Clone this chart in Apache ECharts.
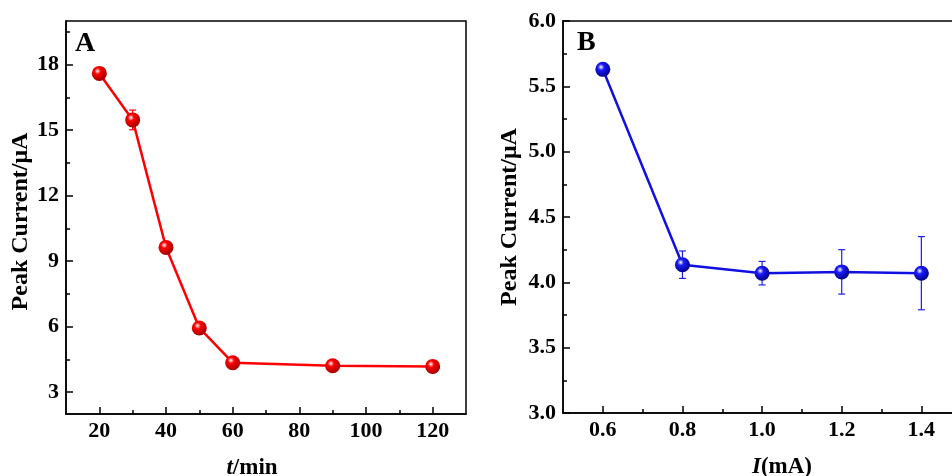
<!DOCTYPE html>
<html><head><meta charset="utf-8">
<script src="https://cdn.jsdelivr.net/npm/echarts@6/dist/echarts.min.js"></script>
<style>html,body{margin:0;padding:0;background:#fff}#c{width:952px;height:476px}</style>
</head><body><div id="c"></div>
<script>
// Panel A data
const timeMin = [20, 30, 40, 50, 60, 90, 120];
const peakA = [17.6, 15.47, 9.63, 5.94, 4.35, 4.21, 4.18];
const errA = [0.08, 0.45, 0.08, 0.08, 0.06, 0.06, 0.06];
// Panel B data
const currentMA = [0.6, 0.8, 1.0, 1.2, 1.4];
const peakB = [5.63, 4.135, 4.07, 4.08, 4.07];
const errB = [0.02, 0.105, 0.09, 0.17, 0.28];
// Tick labels
const xTicksA = [20, 40, 60, 80, 100, 120];
const xMinorA = [30, 50, 70, 90, 110];
const yTicksA = [3, 6, 9, 12, 15, 18];
const yMinorA = [4.5, 7.5, 10.5, 13.5, 16.5, 19.5];
const xTicksB = [0.6, 0.8, 1.0, 1.2, 1.4];
const xMinorB = [0.7, 0.9, 1.1, 1.3, 1.5];
const yTicksB = [3.0, 3.5, 4.0, 4.5, 5.0, 5.5, 6.0];
const yMinorB = [3.25, 3.75, 4.25, 4.75, 5.25, 5.75];

const FONT = '"Liberation Serif", "Times New Roman", serif';
const chart = echarts.init(document.getElementById('c'), null, {renderer: 'canvas'});

function ball(c, dark) {
  return {type: 'radial', x: 0.38, y: 0.35, r: 0.7,
    colorStops: [{offset: 0, color: '#ffffff'}, {offset: 0.3, color: c}, {offset: 1, color: dark}]};
}
function mainAxis(grid, pos, min, max, ticks, fmt, isX, name, nameGap, nameSize, namePad) {
  return {
    type: 'value', gridIndex: grid, position: pos, min: min, max: max,
    name: name, nameLocation: 'middle', nameGap: nameGap,
    nameTextStyle: {fontFamily: FONT, fontWeight: 'bold', fontSize: nameSize, color: '#000', padding: namePad,
      rich: {i: {fontFamily: FONT, fontWeight: 'bold', fontStyle: 'italic', fontSize: nameSize, color: '#000'}}},
    axisLine: {show: true, onZero: false, lineStyle: {color: '#000', width: 1.5}},
    axisTick: {show: true, inside: true, length: 7, customValues: ticks, lineStyle: {color: '#000', width: 1.5}},
    axisLabel: {show: true, customValues: ticks, formatter: fmt, fontFamily: FONT, fontWeight: 'bold',
      fontSize: 22, color: '#000', margin: isX ? 6 : 7},
    splitLine: {show: false}
  };
}
function minorAxis(grid, pos, min, max, ticks) {
  return {
    type: 'value', gridIndex: grid, position: pos, min: min, max: max,
    axisLine: {show: false, onZero: false},
    axisTick: {show: true, inside: true, length: 4, customValues: ticks, lineStyle: {color: '#000', width: 1.5}},
    axisLabel: {show: false}, splitLine: {show: false}
  };
}
function errRender(params, api) {
  const x = api.value(0), y = api.value(1), e = api.value(2);
  const top = api.coord([x, y + e]), bot = api.coord([x, y - e]);
  const w = 3.5;
  const st = {stroke: api.visual('color'), lineWidth: 1.2};
  return {type: 'group', children: [
    {type: 'line', shape: {x1: top[0], y1: top[1], x2: bot[0], y2: bot[1]}, style: st},
    {type: 'line', shape: {x1: top[0] - w, y1: top[1], x2: top[0] + w, y2: top[1]}, style: st},
    {type: 'line', shape: {x1: bot[0] - w, y1: bot[1], x2: bot[0] + w, y2: bot[1]}, style: st}
  ]};
}

const dataA = timeMin.map((t, i) => [t, peakA[i]]);
const errDataA = timeMin.map((t, i) => [t, peakA[i], errA[i]]);
const dataB = currentMA.map((c, i) => [c, peakB[i]]);
const errDataB = currentMA.map((c, i) => [c, peakB[i], errB[i]]);

chart.setOption({
  backgroundColor: '#ffffff',
  animation: false,
  grid: [
    {left: 66, top: 21, width: 400, height: 393, show: true, borderColor: '#000', borderWidth: 1.5,
      backgroundColor: 'transparent', containLabel: false, outerBoundsMode: 'none'},
    {left: 563, top: 21, width: 438, height: 392, show: true, borderColor: '#000', borderWidth: 1.5,
      backgroundColor: 'transparent', containLabel: false, outerBoundsMode: 'none'}
  ],
  xAxis: [
    mainAxis(0, 'bottom', 10, 130, xTicksA, v => String(v), true, '{i|t}/min', 43, 23, [0, 28, 0, 0]),
    minorAxis(0, 'bottom', 10, 130, xMinorA),
    mainAxis(1, 'bottom', 0.5, 1.6, xTicksB, v => v.toFixed(1), true, '{i|I}(mA)', 43, 23, [0, 0, 0, 0]),
    minorAxis(1, 'bottom', 0.5, 1.6, xMinorB)
  ],
  yAxis: [
    mainAxis(0, 'left', 2, 20, yTicksA, v => String(v), false, 'Peak Current/μA', 32, 24, [0, 8, 0, 0]),
    minorAxis(0, 'left', 2, 20, yMinorA),
    mainAxis(1, 'left', 3, 6, yTicksB, v => v.toFixed(1), false, 'Peak Current/μA', 41, 24, [0, 0, 0, 0]),
    minorAxis(1, 'left', 3, 6, yMinorB)
  ],
  graphic: [
    {type: 'text', left: 75, top: 30, style: {text: 'A', fontFamily: FONT, fontWeight: 'bold', fontSize: 28, fill: '#000'}},
    {type: 'text', left: 577, top: 29, style: {text: 'B', fontFamily: FONT, fontWeight: 'bold', fontSize: 28, fill: '#000'}}
  ],
  series: [
    {type: 'custom', xAxisIndex: 0, yAxisIndex: 0, renderItem: errRender, data: errDataA,
      itemStyle: {color: '#ff0000'}, encode: {x: 0, y: 1}, z: 1},
    {type: 'line', xAxisIndex: 0, yAxisIndex: 0, data: dataA, symbol: 'circle', symbolSize: 15,
      lineStyle: {color: '#ff0000', width: 2.5}, itemStyle: {color: ball('#ff0000', '#9a0000')}, z: 3},
    {type: 'custom', xAxisIndex: 2, yAxisIndex: 2, renderItem: errRender, data: errDataB,
      itemStyle: {color: '#2020e0'}, encode: {x: 0, y: 1}, z: 1},
    {type: 'line', xAxisIndex: 2, yAxisIndex: 2, data: dataB, symbol: 'circle', symbolSize: 15,
      lineStyle: {color: '#1010e0', width: 2.5}, itemStyle: {color: ball('#1a1aff', '#00007a')}, z: 3}
  ]
});
</script></body></html>
